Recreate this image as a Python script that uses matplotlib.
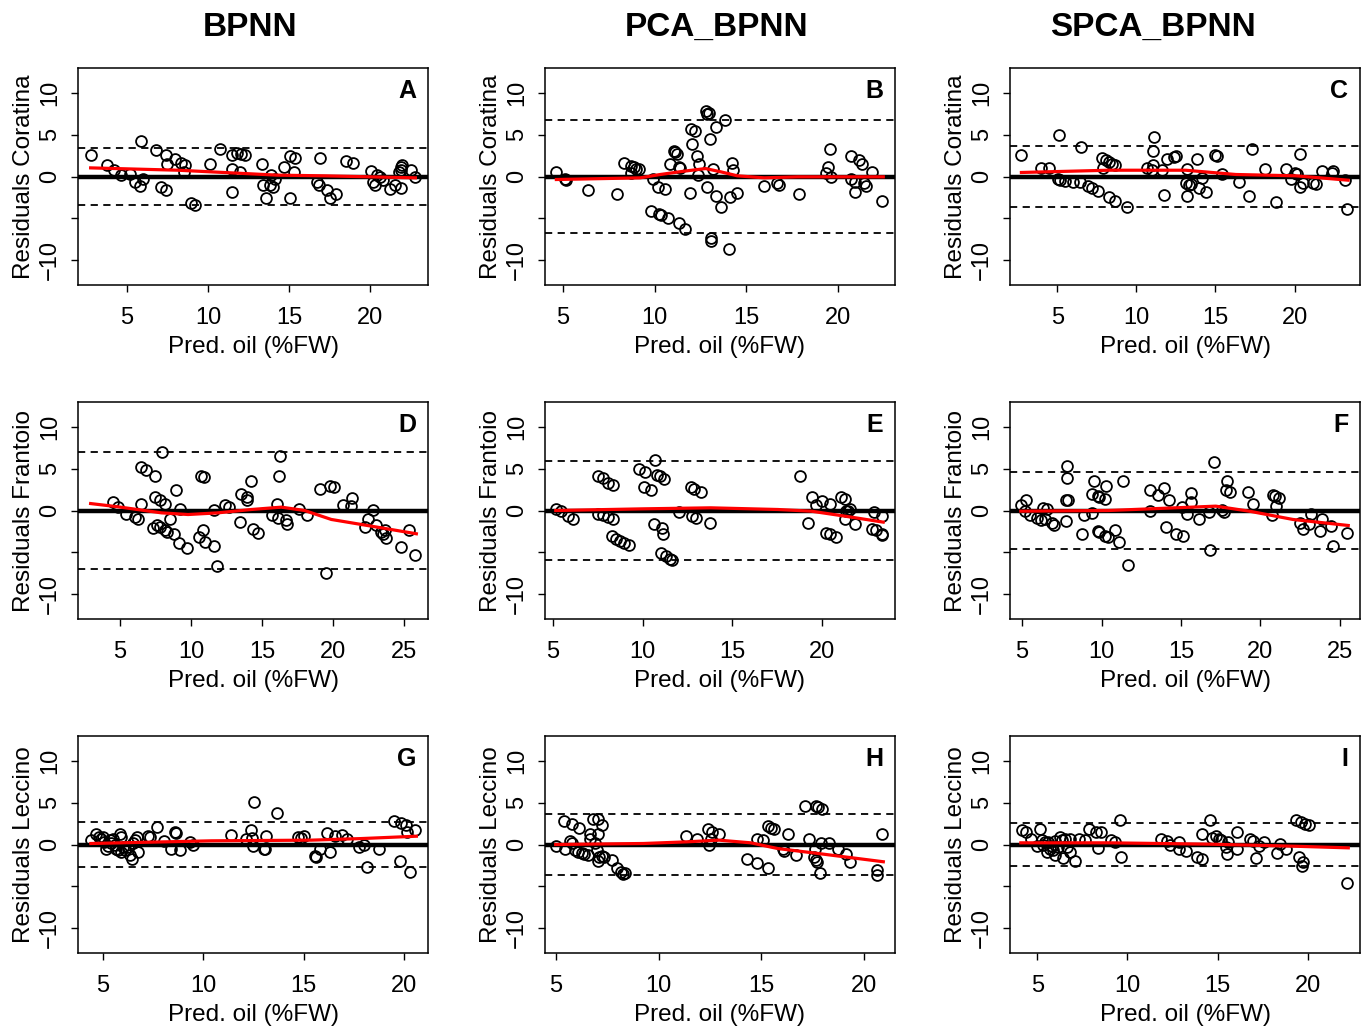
import numpy as np
import matplotlib
matplotlib.use("Agg")
import matplotlib.pyplot as plt

plt.rcParams['font.family'] = ['Liberation Sans', 'DejaVu Sans']

# residual points (pred. oil, residual)
ptsA = np.array([(2.76, 2.62), (3.79, 1.35), (4.20, 0.75), (4.65, 0.16), (5.16, 0.24), (5.47, -0.63), (5.78, -1.11), (5.99, -0.24),
                 (5.84, 4.21), (6.81, 3.21), (7.08, -1.31), (7.43, -1.63), (7.43, 2.54), (7.49, 1.55), (7.94, 2.06), (8.35, 1.67),
                 (8.56, 1.35), (8.52, 0.56), (8.93, -3.13), (9.18, -3.41), (10.10, 1.55), (10.72, 3.33), (11.48, 2.54), (11.48, 0.95),
                 (11.48, -1.83), (11.81, 2.86), (12.06, 2.74), (12.30, 2.54), (11.95, 0.56), (13.33, 1.47), (13.39, -1.03), (13.60, -2.62),
                 (13.81, -1.03), (14.01, -1.31), (13.91, 0.16), (14.11, -0.24), (14.69, 1.15), (15.04, 2.46), (15.39, 2.22), (15.31, 0.56),
                 (15.04, -2.62), (16.75, -0.63), (16.83, -1.03), (16.91, 2.26), (17.37, -1.63), (17.51, -2.62), (17.92, -2.14), (18.54, 1.83),
                 (18.95, 1.63), (20.04, 0.63), (20.18, -0.63), (20.29, -1.03), (20.45, 0.16), (20.60, -0.04), (20.80, -0.44), (21.21, -1.51),
                 (21.52, -1.03), (21.89, -1.35), (21.89, 1.15), (21.93, 0.75), (21.97, 1.35), (22.55, 0.75), (22.80, -0.04), (21.77, 0.56)])
ptsB = np.array([(4.63, 0.48), (5.09, -0.24), (5.18, -0.36), (6.37, -1.63), (7.93, -2.14), (8.33, 1.67), (8.70, 1.27), (8.85, 1.15),
                 (8.99, 0.95), (9.12, 0.87), (8.70, 0.36), (9.80, -4.09), (10.22, -4.48), (10.35, -4.60), (10.75, -5.0), (11.32, -5.52),
                 (11.68, -6.27), (9.91, -0.32), (10.16, -1.23), (10.59, -1.51), (10.86, 1.47), (11.04, 3.06), (11.13, 2.94), (11.23, 2.74),
                 (11.32, 1.15), (11.41, 1.03), (11.92, -2.02), (11.96, 5.63), (12.23, 5.40), (12.05, 3.93), (12.29, 2.46), (12.42, 1.55),
                 (12.36, 0.16), (12.78, 7.78), (12.87, 7.50), (12.97, 7.62), (13.02, 4.52), (13.35, 5.91), (13.85, 6.71), (12.84, -1.23),
                 (13.20, 0.95), (13.33, -2.30), (13.61, -3.69), (13.06, -7.30), (13.06, -7.70), (14.06, -8.69), (14.25, 1.63), (14.30, 0.75),
                 (14.12, -2.50), (14.52, -1.94), (15.95, -1.15), (16.68, -0.83), (16.81, -1.03), (17.86, -2.06), (19.56, 3.26), (19.47, 1.15),
                 (19.38, 0.36), (19.65, -0.04), (20.71, 2.42), (21.15, 2.02), (21.30, 1.47), (20.75, -0.24), (20.97, -0.63), (20.93, -1.83),
                 (21.45, -0.83), (21.57, -1.11), (21.89, 0.56), (22.44, -2.94)])
ptsC = np.array([(2.73, 2.62), (4.00, 1.03), (4.47, 1.03), (5.11, 4.92), (5.06, -0.24), (5.17, -0.36), (5.49, -0.56), (6.02, -0.63),
                 (6.44, -0.63), (6.50, 3.49), (6.97, -1.11), (7.18, -1.43), (7.60, -1.75), (7.82, 2.22), (8.07, 1.94), (8.24, 1.75),
                 (7.92, 1.07), (8.45, 1.55), (8.62, 1.35), (8.28, -2.42), (8.66, -2.90), (9.41, -3.61), (10.68, 1.07), (11.04, 3.01),
                 (11.10, 4.72), (11.04, 1.35), (10.99, 0.75), (11.63, 0.83), (11.74, -2.22), (11.95, 2.06), (12.37, 2.34), (12.48, 2.42),
                 (13.22, 0.87), (13.11, -0.83), (13.33, -1.03), (13.43, -0.95), (13.22, -2.30), (13.86, 2.06), (13.96, -1.43), (14.13, -0.16),
                 (14.43, -1.91), (14.98, 2.62), (15.12, 2.46), (15.44, 0.24), (16.50, -0.63), (17.10, -2.30), (17.29, 3.33), (18.16, 0.95),
                 (18.83, -3.10), (19.47, 0.87), (19.79, -0.24), (20.0, 0.44), (20.15, 0.24), (20.36, 2.74), (20.36, -1.23), (20.53, -0.83),
                 (21.16, -0.83), (21.38, -0.95), (21.76, 0.63), (22.44, 0.63), (22.39, 0.36), (23.18, -0.44), (23.33, -3.89)])
ptsD = np.array([(4.51, 0.99), (4.86, 0.44), (5.45, -0.36), (6.08, -0.75), (6.27, -0.99), (6.50, 0.79), (6.50, 5.16), (6.85, 4.80),
                 (7.49, 4.17), (7.96, 6.98), (7.44, 1.63), (7.79, 1.31), (8.19, 0.83), (7.32, -2.14), (7.63, -1.79), (7.79, -1.94),
                 (8.19, -2.38), (8.33, -2.54), (8.54, -1.07), (8.78, -2.86), (8.92, 2.50), (9.13, -3.93), (9.74, -4.52), (9.20, 0.12),
                 (10.54, -3.17), (10.96, -3.73), (10.87, -2.38), (10.73, 4.17), (10.89, 3.97), (11.60, -4.25), (11.85, -6.63), (11.62, 0.04),
                 (12.37, 0.60), (12.65, 0.44), (13.43, -1.35), (13.50, 2.02), (13.97, 1.63), (13.97, 1.23), (14.20, 3.57), (14.37, -2.18),
                 (14.72, -2.66), (15.70, -0.56), (16.13, -0.95), (16.03, 0.79), (16.17, 4.17), (16.29, 6.47), (16.71, -1.15), (16.78, -1.67),
                 (17.61, 0.20), (18.14, -0.48), (19.11, 2.58), (19.81, 2.98), (20.07, 2.82), (19.53, -7.42), (20.70, 0.71), (21.34, 1.51),
                 (21.29, 0.52), (22.28, -1.94), (22.46, -1.07), (22.82, 0.04), (23.00, -1.79), (23.36, -2.58), (23.52, -2.86), (23.76, -3.25),
                 (23.68, -2.38), (24.81, -4.37), (25.33, -2.38), (25.80, -5.32)])
ptsE = np.array([(5.19, 0.20), (5.47, -0.08), (5.84, -0.67), (6.09, -0.99), (7.53, 4.09), (7.77, 3.89), (8.09, 3.29), (8.37, 3.02),
                 (7.53, -0.36), (7.77, -0.56), (8.05, -0.75), (8.37, -1.07), (8.28, -3.06), (8.52, -3.45), (8.75, -3.65), (8.97, -3.85),
                 (9.23, -4.13), (9.78, 5.0), (10.15, 4.56), (10.09, 2.82), (10.47, 2.50), (10.71, 5.99), (10.80, 4.29), (10.99, 4.09),
                 (11.22, 3.81), (10.66, -1.67), (11.09, -2.06), (11.14, -2.78), (11.03, -5.12), (11.33, -5.44), (11.55, -5.75), (11.67, -5.95),
                 (12.02, -0.16), (12.68, 2.78), (12.86, 2.58), (13.24, 2.18), (12.77, -0.67), (13.01, -0.95), (13.75, -1.55), (18.80, 4.09),
                 (19.23, -1.55), (19.48, 1.59), (19.70, 0.60), (20.02, 1.11), (20.45, 0.83), (20.26, -2.66), (20.45, -2.86), (20.82, -3.13),
                 (21.07, 1.59), (21.29, 1.43), (21.29, -1.03), (21.39, 0.0), (21.57, 0.12), (21.48, -0.08), (21.89, -1.67), (22.79, -2.18),
                 (23.03, -2.38), (23.35, -2.86), (23.39, -2.98), (22.92, -0.20), (23.39, -0.67)])
ptsF = np.array([(4.96, 0.71), (5.27, 1.31), (5.17, -0.08), (5.49, -0.48), (5.91, -0.87), (6.22, -1.15), (6.43, -0.99), (6.86, -1.55),
                 (7.03, -1.79), (6.33, 0.32), (6.54, 0.12), (7.81, 5.28), (7.81, 3.89), (7.74, 1.31), (7.87, 1.31), (7.74, -1.27),
                 (8.80, -2.86), (8.92, -0.56), (9.39, -0.28), (9.54, 3.49), (9.39, 1.98), (9.77, 1.71), (9.85, 1.59), (10.23, 1.39),
                 (10.30, 2.98), (9.77, -2.46), (9.85, -2.58), (10.19, -3.06), (10.40, -3.13), (10.82, -2.38), (11.08, -3.77), (11.37, 3.49),
                 (11.67, -6.55), (13.08, 2.42), (13.57, 1.83), (13.92, 2.70), (14.24, 1.31), (13.08, -0.08), (14.03, -1.94), (14.70, -2.78),
                 (15.15, -3.06), (15.08, 0.44), (15.36, -0.36), (15.61, 2.10), (15.61, 1.03), (16.14, -1.07), (16.77, -0.16), (17.05, 5.79),
                 (16.84, -4.72), (17.57, 0.04), (17.72, -0.16), (17.93, 3.49), (17.83, 2.42), (18.08, 2.22), (19.20, 2.18), (19.51, 0.75),
                 (20.72, -0.56), (20.78, 1.90), (20.89, 1.79), (21.16, 1.51), (21.0, 0.52), (22.47, -1.47), (22.68, -2.26), (23.06, -1.67),
                 (23.16, -0.40), (23.78, -2.46), (23.90, -1.07), (24.47, -1.87), (24.54, -4.25), (25.46, -2.74)])
ptsG = np.array([(4.42, 0.52), (4.67, 1.31), (4.78, 0.91), (4.92, 0.60), (5.05, 0.32), (5.17, -0.48), (5.33, 0.52), (5.42, 0.12),
                 (5.58, -0.08), (5.66, -0.48), (5.83, 1.31), (5.91, 0.91), (5.91, -0.87), (6.08, -0.67), (6.25, -0.28), (6.33, -1.27),
                 (6.45, -1.79), (6.58, 0.52), (6.71, 0.91), (6.75, -0.87), (6.50, 0.12), (5.0, 0.9), (5.25, -0.2), (5.5, 0.7),
                 (5.75, -0.6), (6.0, -0.3), (7.24, 1.03), (7.33, 0.91), (7.71, 2.10), (8.04, 0.44), (8.41, -0.56), (8.86, -0.67),
                 (8.57, 1.51), (8.66, 1.39), (9.32, 0.32), (9.49, -0.08), (11.40, 1.19), (12.15, 0.60), (12.40, 1.71), (12.43, 0.83),
                 (12.53, 5.08), (12.48, -0.20), (13.03, -0.48), (13.10, -0.59), (13.15, 0.99), (13.70, 3.81), (14.73, 0.91), (14.89, 0.79),
                 (15.02, 0.99), (15.59, -1.39), (15.64, -1.55), (15.84, -0.59), (16.19, 1.39), (16.34, -0.87), (16.55, 0.99), (16.92, 1.11),
                 (17.19, 0.71), (17.75, -0.28), (18.02, -0.08), (18.18, -2.74), (18.75, -0.48), (19.51, 2.78), (19.85, 2.58), (20.13, 2.30),
                 (20.18, 1.51), (20.58, 1.71), (19.83, -1.94), (20.30, -3.25)])
ptsH = np.array([(5.02, -0.20), (5.38, 2.82), (5.80, 2.50), (6.13, 2.02), (5.42, -0.48), (5.67, 0.44), (5.80, 0.12), (5.92, -0.67),
                 (6.08, -0.87), (6.24, -0.99), (6.36, -1.15), (6.57, -1.27), (6.65, 1.31), (6.65, 0.60), (6.78, 3.10), (7.06, 3.10),
                 (7.06, 1.31), (7.22, 2.30), (6.90, 0.12), (6.98, -0.67), (7.11, -1.55), (7.22, -1.39), (7.34, -1.55), (7.06, -1.94),
                 (7.75, -1.87), (7.96, -2.78), (8.15, -3.25), (8.25, -3.53), (8.37, -3.45), (11.31, 1.03), (11.88, 0.71), (12.40, 1.83),
                 (12.61, 1.51), (12.94, 1.23), (12.45, -0.08), (12.53, 0.60), (14.33, -1.79), (14.79, -2.26), (15.34, -2.86), (14.79, 0.60),
                 (15.07, 0.52), (15.31, 2.22), (15.47, 1.98), (15.60, 1.90), (16.05, -0.59), (16.13, -0.75), (16.32, 1.31), (16.70, -1.27),
                 (17.14, 4.56), (17.68, 4.56), (17.79, 4.48), (17.96, 4.29), (17.32, 0.60), (17.57, -1.55), (17.68, -1.87), (17.73, -2.06),
                 (17.60, -0.48), (17.84, -3.45), (17.93, 0.12), (18.30, 0.12), (18.74, -0.59), (19.15, -1.15), (19.31, -2.06), (20.62, -3.06),
                 (20.65, -3.65), (20.90, 1.31)])
ptsI = np.array([(4.13, 1.79), (4.40, 1.51), (4.68, 0.71), (5.15, 1.83), (4.96, -0.20), (5.24, 0.52), (5.43, 0.32), (5.52, -0.87),
                 (5.71, -0.48), (5.89, -0.67), (5.99, -1.27), (6.13, -0.28), (6.26, 0.91), (6.36, 0.52), (6.45, -1.67), (6.54, 0.60),
                 (6.64, -0.28), (6.82, 0.60), (6.82, -0.87), (7.10, -1.94), (7.29, 0.71), (7.66, 0.52), (7.88, 1.83), (8.25, 1.51),
                 (8.36, -0.36), (8.55, 1.51), (5.3, 0.0), (5.6, 0.3), (5.8, -0.2), (6.0, 0.4), (9.11, 0.52), (9.29, 0.32),
                 (9.61, 2.90), (9.67, -1.55), (11.84, 0.71), (12.21, 0.44), (12.34, -0.08), (12.86, 0.32), (12.86, -0.59), (13.23, -0.75),
                 (13.88, -1.55), (14.13, -1.79), (14.16, 1.31), (14.57, 2.90), (14.72, 0.83), (14.91, 0.99), (15.06, 0.71), (15.19, 0.52),
                 (15.56, 0.32), (15.50, -1.15), (15.46, -0.28), (16.08, 1.51), (16.08, -0.59), (16.80, 0.71), (16.95, 0.44), (17.14, -1.67),
                 (17.32, -0.20), (17.60, 0.32), (18.29, -0.99), (18.48, 0.04), (18.81, -0.48), (19.33, 2.98), (19.65, 2.70), (19.83, 2.50),
                 (20.07, 2.30), (19.52, -1.55), (19.74, -2.06), (19.70, -2.58), (22.19, -4.64)])

# smoothed trend (red)
smA = np.array([(2.76, 1.03), (8.15, 0.75), (14.3, 0.16), (17.2, 0.08), (22.8, -0.16)])
smB = np.array([(4.63, -0.36), (9.21, -0.16), (10.31, 0.24), (11.59, 0.63), (12.78, 0.95), (13.61, 0.56), (14.52, 0.08),
                (15.99, -0.16), (17.82, -0.04), (22.49, -0.04)])
smC = np.array([(2.73, 0.48), (8.24, 0.75), (13.11, 0.75), (16.29, 0.24), (20.1, 0.08), (23.39, -0.44)])
smD = np.array([(2.93, 0.83), (4.86, 0.44), (7.91, -0.28), (9.79, -0.48), (11.9, -0.28), (14.25, 0.12), (16.36, 0.40),
                (18.0, 0.0), (19.88, -1.07), (22.7, -1.87), (25.87, -2.78)])
smE = np.array([(5.15, 0.0), (10.06, 0.20), (13.80, 0.32), (17.55, 0.12), (19.42, -0.08), (21.29, -0.67), (23.44, -1.39)])
smF = np.array([(4.92, -0.08), (10.44, 0.0), (14.66, 0.32), (17.19, 0.52), (19.30, -0.08), (22.05, -1.07), (25.53, -1.79)])
smG = np.array([(4.39, 0.12), (10.40, 0.44), (15.39, 0.52), (17.89, 0.71), (20.63, 0.99)])
smH = np.array([(4.98, 0.0), (9.26, 0.12), (11.39, 0.32), (12.94, 0.52), (14.49, 0.20), (15.80, -0.48), (17.76, -1.07), (20.95, -2.06)])
smI = np.array([(4.09, 0.20), (8.96, 0.20), (14.54, 0.04), (19.18, -0.20), (22.25, -0.40)])

# +/- limits (dashed)
limits = [3.4, 6.7, 3.7, 7.0, 5.9, 4.65, 2.65, 3.7, 2.6]
xlims = [(1.98, 23.58), (4.01, 23.13), (2.01, 24.14), (2.04, 26.69), (4.55, 24.10), (4.24, 26.27),
         (3.75, 21.21), (4.46, 21.52), (3.49, 22.90)]
xticks = [[5, 10, 15, 20], [5, 10, 15, 20], [5, 10, 15, 20], [5, 10, 15, 20, 25], [5, 10, 15, 20],
          [5, 10, 15, 20, 25], [5, 10, 15, 20], [5, 10, 15, 20], [5, 10, 15, 20]]
letters = ['A', 'B', 'C', 'D', 'E', 'F', 'G', 'H', 'I']
cultivars = ['Coratina', 'Frantoio', 'Leccino']
models = ['BPNN', 'PCA_BPNN', 'SPCA_BPNN']
title_x = [250, 717, 1153]

pts = [ptsA, ptsB, ptsC, ptsD, ptsE, ptsF, ptsG, ptsH, ptsI]
sms = [smA, smB, smC, smD, smE, smF, smG, smH, smI]

W, H = 1364, 1027
fig = plt.figure(figsize=(W / 100, H / 100), dpi=100)
col_left = [78, 545, 1010]
row_top = [68, 402, 736]
aw, ah = 350, 217

for i in range(9):
    r, c = i // 3, i % 3
    ax = fig.add_axes([col_left[c] / W, 1 - (row_top[r] + ah) / H, aw / W, ah / H])
    p = pts[i]
    ax.plot(p[:, 0], p[:, 1], 'o', mfc='none', mec='black', mew=1.3, ms=7.8, zorder=2)
    ax.axhline(0, color='black', lw=3.2, zorder=3)
    ax.axhline(limits[i], color='black', lw=1.3, ls=(0, (4, 3)), zorder=3)
    ax.axhline(-limits[i], color='black', lw=1.3, ls=(0, (4, 3)), zorder=3)
    s = sms[i]
    ax.plot(s[:, 0], s[:, 1], color='red', lw=2.3, zorder=4)
    ax.set_xlim(*xlims[i])
    ax.set_ylim(-12.96, 12.96)
    ax.set_xticks(xticks[i])
    ax.set_yticks([-10, -5, 0, 5, 10])
    ax.set_yticklabels(['\u221210', '', '0', '5', '10'], rotation=90, va='center')
    ax.tick_params(length=5, width=1, labelsize=17)
    ax.tick_params(axis='x', pad=11)
    ax.tick_params(axis='y', pad=7)
    ax.set_xlabel('Pred. oil (%FW)', fontsize=17.5, labelpad=5)
    ax.set_ylabel('Residuals ' + cultivars[r], fontsize=17.5, labelpad=3)
    ax.text(0.967, 0.95, letters[i], transform=ax.transAxes, ha='right', va='top',
            fontsize=18, fontweight='bold')
    for sp in ax.spines.values():
        sp.set_linewidth(1.1)

for c in range(3):
    fig.text(title_x[c] / W, 1 - 27 / H, models[c], ha='center', va='center',
             fontsize=24, fontweight='bold')

fig.savefig('out.png', dpi=100)
